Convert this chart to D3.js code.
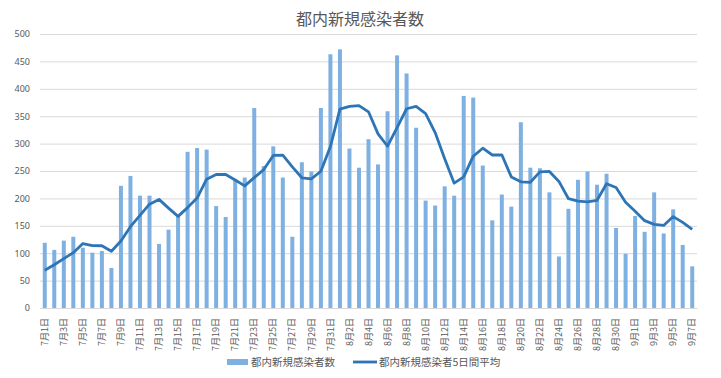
<!DOCTYPE html>
<html>
<head>
<meta charset="utf-8">
<script src="https://cdn.jsdelivr.net/npm/d3@7"></script>
<style>
  body { margin:0; background:#fff; }
  text { font-family: "Noto Sans CJK JP", "Noto Sans", sans-serif; fill:#595959; }
</style>
</head>
<body>
<div id="chart-area"></div>
<script>
/* Data */
var months = [7, 8, 9];
var daysInMonth = [31, 31, 7];

// 都内新規感染者数 (daily new cases)
var julCases = [119,106,123,130,110,101,104,73,223,241,205,205,117,143,166,285,292,289,186,166,235,238,365,259,295,238,130,266,249,365,463];
var augCases = [472,291,256,308,262,359,461,428,329,196,187,222,205,387,384,260,160,207,185,339,256,255,211,94,181,234,249,225,245,146,99];
var sepCases = [168,139,211,136,180,115,76];

// 都内新規感染者5日間平均 (5 day average)
var julAvg = [69,79,90,101,117.6,114,113.6,103.6,122.2,148.4,169.2,189.4,198.2,182.2,167.2,183.2,200.6,235,243.6,243.6,233.6,222.8,238,252.6,278.4,279,257.4,237.6,235.6,249.6,294.6];
var augAvg = [363,368,369.4,358,317.8,295.2,329.2,363.6,367.8,354.6,320.2,272.4,227.8,239.4,277,291.6,279.2,279.6,239.2,230.2,229.4,248.4,249.2,231,199.4,195,193.8,196.6,226.8,219.8,192.8];
var sepAvg = [176.6,159.4,152.6,150.6,166.8,156.2,143.6];

var yTicks = [0,50,100,150,200,250,300,350,400,450,500];

var seriesNames = ["都内新規感染者数", "都内新規感染者5日間平均"];

/* Build rows */
var cases = julCases.concat(augCases, sepCases);
var avgs = julAvg.concat(augAvg, sepAvg);
var labels = [];
months.forEach((m, i) => {
  for (var d = 1; d <= daysInMonth[i]; d++) labels.push(m + "月" + d + "日");
});
var data = labels.map((l, i) => ({ label: l, cases: cases[i], avg: avgs[i] }));

/* Margin convention */
var margin = { top:34, right:24, bottom:70, left:40 };
var width = 721 - margin.left - margin.right;
var height = 378 - margin.top - margin.bottom;

var svg = d3.select("#chart-area").append("svg")
  .attr("width", 721)
  .attr("height", 378);

var g = svg.append("g")
  .attr("transform", "translate(" + margin.left + "," + margin.top + ")");

/* Scales */
var x = d3.scaleBand()
  .domain(labels)
  .range([0, width])
  .paddingInner(0.58)
  .paddingOuter(0.29);

var y = d3.scaleLinear()
  .domain([0, 500])
  .range([height, 0]);

/* Gridlines + y axis */
var yAxisCall = d3.axisLeft(y).tickValues(yTicks).tickSize(-width).tickPadding(10);
var yAxisGroup = g.append("g").call(yAxisCall);
yAxisGroup.select(".domain").remove();
yAxisGroup.selectAll("line").attr("stroke", "#d9d9d9");
yAxisGroup.selectAll("text").attr("font-size", "9px").style("fill", "#595959")
  .style("font-family", "'Noto Sans', sans-serif");

/* Bars */
g.selectAll("rect.bar").data(data).enter()
  .append("rect")
    .attr("class", "bar")
    .attr("x", (d) => x(d.label))
    .attr("y", (d) => y(d.cases))
    .attr("width", x.bandwidth())
    .attr("height", (d) => height - y(d.cases))
    .attr("fill", "#7eb0e1");

/* X axis */
var xAxisCall = d3.axisBottom(x)
  .tickValues(labels.filter((l, i) => i % 2 === 0))
  .tickSize(0);
var xAxisGroup = g.append("g")
  .attr("transform", "translate(0," + height + ")")
  .call(xAxisCall);
xAxisGroup.select(".domain").attr("stroke", "#d9d9d9");
xAxisGroup.selectAll("text")
  .attr("transform", "rotate(-90)")
  .attr("text-anchor", "end")
  .attr("x", -10)
  .attr("y", 0)
  .attr("dy", "0.35em")
  .attr("font-size", "9px")
  .style("fill", "#595959");

/* Line */
var line = d3.line()
  .x((d) => x(d.label) + x.bandwidth() / 2)
  .y((d) => y(d.avg));

g.append("path")
  .datum(data)
  .attr("fill", "none")
  .attr("stroke", "#2e75b6")
  .attr("stroke-width", 2.8)
  .attr("stroke-linejoin", "round")
  .attr("d", line);

/* Title */
svg.append("text")
  .attr("x", 360)
  .attr("y", 25)
  .attr("text-anchor", "middle")
  .attr("font-size", "16px")
  .text("都内新規感染者数");

/* Legend */
var legend = svg.append("g").attr("transform", "translate(0,362)");
legend.append("rect")
  .attr("x", 227).attr("y", -3).attr("width", 21).attr("height", 6)
  .attr("fill", "#7eb0e1");
legend.append("text")
  .attr("x", 251).attr("y", 0).attr("dy", "0.35em")
  .attr("font-size", "10.5px")
  .text(seriesNames[0]);
legend.append("line")
  .attr("x1", 353).attr("x2", 377).attr("y1", 0).attr("y2", 0)
  .attr("stroke", "#2e75b6").attr("stroke-width", 2.8);
legend.append("text")
  .attr("x", 379).attr("y", 0).attr("dy", "0.35em")
  .attr("font-size", "10.5px")
  .text(seriesNames[1]);
</script>
</body>
</html>
